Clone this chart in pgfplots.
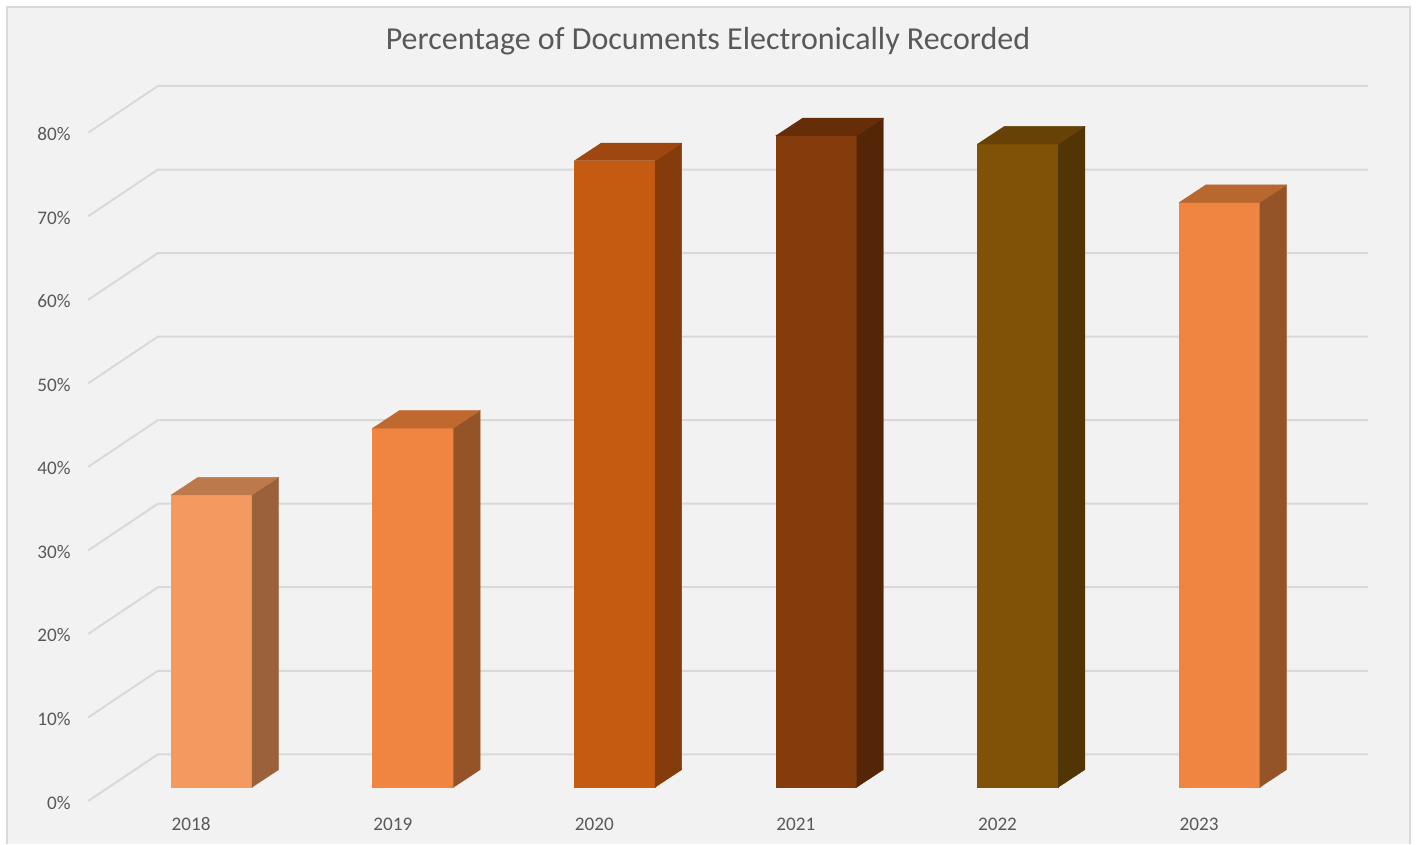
\documentclass[border=0pt]{standalone}
\usepackage{pgfplots}
\pgfplotsset{compat=1.18}
\usepackage{fontspec}
\setmainfont{Carlito}

\definecolor{chartbg}{HTML}{F2F2F2}
\definecolor{frame}{HTML}{D9D9D9}
\definecolor{gridc}{HTML}{D9D9D9}
\definecolor{labc}{HTML}{595959}
% front / side / top shades for each bar
\definecolor{aF}{HTML}{F39A61}\definecolor{aS}{HTML}{9A613B}\definecolor{aT}{HTML}{BC7A4C}
\definecolor{bF}{HTML}{F08542}\definecolor{bS}{HTML}{955428}\definecolor{bT}{HTML}{C0692F}
\definecolor{cF}{HTML}{C55A11}\definecolor{cS}{HTML}{843C0C}\definecolor{cT}{HTML}{9E4710}
\definecolor{dF}{HTML}{843C0C}\definecolor{dS}{HTML}{552508}\definecolor{dT}{HTML}{662D09}
\definecolor{eF}{HTML}{7F5208}\definecolor{eS}{HTML}{523505}\definecolor{eT}{HTML}{664206}
\definecolor{fF}{HTML}{F08542}\definecolor{fS}{HTML}{955428}\definecolor{fT}{HTML}{B8672F}

% bar geometry (axis units): half width of the front face and depth offset
\def\bw{0.2008}
\def\ddx{0.1324}
\def\ddy{2.107}

% \cuboid{index}{value}{front}{side}{top}
\newcommand\cuboid[5]{%
  \pgfmathsetmacro\xl{#1-\bw}%
  \pgfmathsetmacro\xr{#1+\bw}%
  \pgfmathsetmacro\xlb{#1-\bw+\ddx}%
  \pgfmathsetmacro\xrb{#1+\bw+\ddx}%
  \pgfmathsetmacro\yt{#2+\ddy}%
  \edef\doplot{%
    \noexpand\addplot[forget plot,fill=#3,draw=#3,line width=0.2pt] coordinates {(\xl,0) (\xr,0) (\xr,#2) (\xl,#2)};
    \noexpand\addplot[forget plot,fill=#4,draw=#4,line width=0.2pt] coordinates {(\xr,0) (\xrb,\ddy) (\xrb,\yt) (\xr,#2)};
    \noexpand\addplot[forget plot,fill=#5,draw=#5,line width=0.2pt] coordinates {(\xl,#2) (\xr,#2) (\xrb,\yt) (\xlb,\yt)};
  }\doplot
}

\begin{document}
\begin{tikzpicture}
\begin{axis}[
  width=708pt, height=422pt, scale only axis,
  xmin=-1.0486, xmax=5.9762, ymin=-6.787, ymax=94.243,
  hide axis, clip=false]

% page and chart area
\fill[white] (rel axis cs:0,0) rectangle (rel axis cs:1,1);
\fill[chartbg] (rel axis cs:0.00494,0) rectangle (rel axis cs:0.99576,0.99171);
\draw[frame, line width=0.7pt] (rel axis cs:0.00494,0) -- (rel axis cs:0.00494,0.99171)
  -- (rel axis cs:0.99576,0.99171) -- (rel axis cs:0.99576,0);

% gridlines: floor-to-wall diagonal, then along the back wall
\pgfplotsinvokeforeach{0,...,8}{%
  \draw[gridc, line width=1pt, line join=round]
    (axis cs:-0.611,{10*#1-1.64}) -- (axis cs:-0.265,{10*#1+3.95}) -- (axis cs:5.739,{10*#1+3.95});
  \node[anchor=base east, inner sep=0pt, text=labc, font=\fontsize{9.6}{11}\selectfont]
    at (axis cs:-0.6966,{10*#1-2.6}) {\pgfmathparse{int(10*#1)}\pgfmathresult\%};
}

% bars
\cuboid{0}{35}{aF}{aS}{aT}
\cuboid{1}{43}{bF}{bS}{bT}
\cuboid{2}{75}{cF}{cS}{cT}
\cuboid{3}{78}{dF}{dS}{dT}
\cuboid{4}{77}{eF}{eS}{eT}
\cuboid{5}{70}{fF}{fS}{fT}

% category labels
\pgfplotsinvokeforeach{0,...,5}{%
  \node[anchor=base, inner sep=0pt, text=labc, font=\fontsize{9.6}{11}\selectfont]
    at (axis cs:{#1-0.1},-5.23) {\pgfmathparse{int(2018+#1)}\pgfmathresult};
}

% title
\node[anchor=base, inner sep=0pt, text=labc, font=\fontsize{16}{19}\selectfont]
  at (axis cs:2.4637,88.26) {Percentage of Documents Electronically Recorded};
\end{axis}
\end{tikzpicture}
\end{document}
